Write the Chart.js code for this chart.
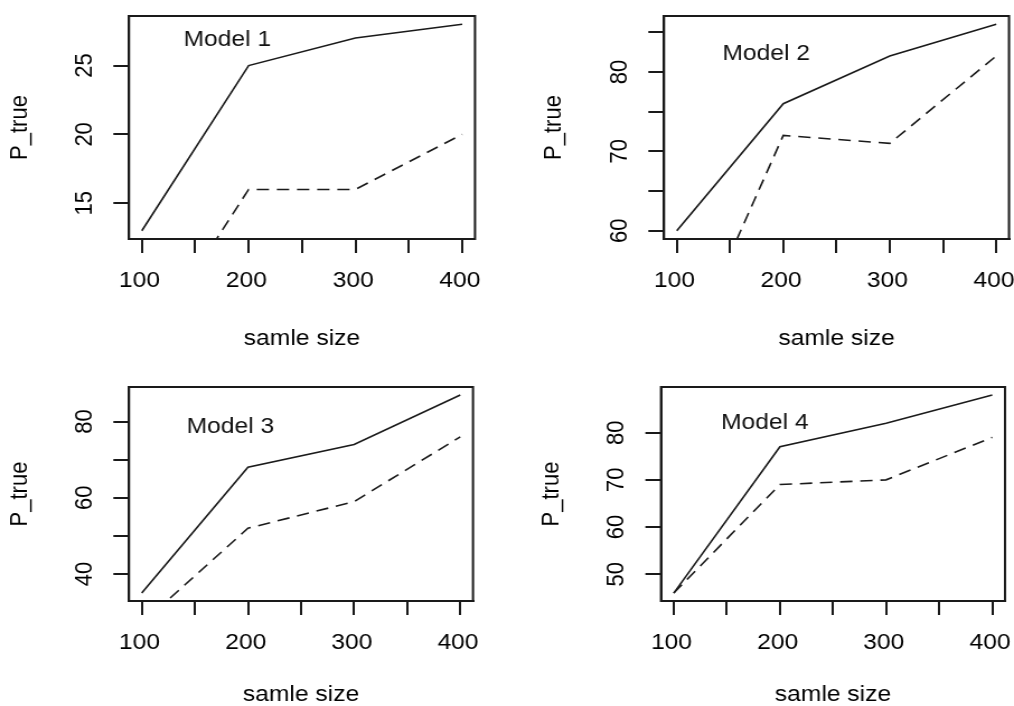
<!DOCTYPE html>
<html>
<head>
<meta charset="utf-8">
<script src="https://cdn.jsdelivr.net/npm/chart.js@4.4.1/dist/chart.umd.min.js"></script>
<style>
  html, body { margin: 0; padding: 0; background: #ffffff; }
  #wrap { position: relative; width: 1014px; height: 706px; overflow: hidden; background: #ffffff; }
  .panel { position: absolute; width: 453px; height: 353px; transform-origin: 0 0; transform: scaleX(1.119205); }
  canvas { display: block; }
</style>
</head>
<body>
<div id="wrap">
  <div class="panel" style="left:0px;top:0px"><canvas id="c1" width="453" height="353"></canvas></div>
  <div class="panel" style="left:507px;top:0px"><canvas id="c2" width="453" height="353"></canvas></div>
  <div class="panel" style="left:0px;top:353px"><canvas id="c3" width="453" height="353"></canvas></div>
  <div class="panel" style="left:507px;top:353px"><canvas id="c4" width="453" height="353"></canvas></div>
</div>
<script>
// ---------------- data ----------------
const sampleSize = [100, 200, 300, 400];

const model1Solid  = [13, 25, 27, 28];
const model1Dashed = [4, 16, 16, 20];

const model2Solid  = [60, 76, 82, 86];
const model2Dashed = [42, 72, 71, 82];

const model3Solid  = [35, 68, 74, 87];
const model3Dashed = [27, 52, 59, 76];

const model4Solid  = [46, 77, 82, 88];
const model4Dashed = [46, 69, 70, 79];

const xTicks      = [100, 150, 200, 250, 300, 350, 400];
const xTickLabels = [100, 200, 300, 400];

const model1YTicks  = [15, 20, 25];
const model1YLabels = [15, 20, 25];
const model2YTicks  = [60, 65, 70, 75, 80, 85];
const model2YLabels = [60, 70, 80];
const model3YTicks  = [40, 50, 60, 70, 80];
const model3YLabels = [40, 60, 80];
const model4YTicks  = [50, 60, 70, 80];
const model4YLabels = [50, 60, 70, 80];

const panelTitles = ['Model 1', 'Model 2', 'Model 3', 'Model 4'];
const xTitle = 'samle size';
const yTitle = 'P_true';

// ---------------- layout / style ----------------
const W = 453, H = 353;          // canvas drawing size (panel is stretched horizontally by CSS)
const SX = 507 / 453;            // horizontal stretch of the original picture
const FONT = '"Liberation Sans", Arial, Helvetica, sans-serif';
const FS = 22;
const INK = '#1a1a1a';

// box edges in displayed pixels (inside each 507x353 panel)
const layouts = [
  { left: 129, top: 16, right: 475, bottom: 239, yTitlePad: 5,  xTitlePad: 1,  labelX: 180,   labelY: 26.85 },
  { left: 157, top: 16, right: 502, bottom: 239, yTitlePad: 29, xTitlePad: 1,  labelX: 184,   labelY: 82.3 },
  { left: 129, top: 34, right: 473, bottom: 248, yTitlePad: 5,  xTitlePad: -2, labelX: 183.5, labelY: 78.7 },
  { left: 154, top: 34, right: 498, bottom: 248, yTitlePad: 27, xTitlePad: -2, labelX: 185.7, labelY: 82.0 }
];

const boxPlugin = {
  id: 'rbox',
  afterDraw(chart) {
    const a = chart.chartArea, ctx = chart.ctx;
    ctx.save();
    ctx.strokeStyle = INK;
    ctx.lineWidth = 2;
    ctx.strokeRect(a.left, a.top, a.right - a.left, a.bottom - a.top);
    ctx.restore();
  }
};

const labelPlugin = {
  id: 'rtext',
  afterDraw(chart, args, opts) {
    const ctx = chart.ctx;
    const px = chart.scales.x.getPixelForValue(opts.x);
    const py = chart.scales.y.getPixelForValue(opts.y);
    ctx.save();
    ctx.fillStyle = '#111';
    ctx.font = FS + 'px ' + FONT;
    ctx.textAlign = 'center';
    ctx.textBaseline = 'middle';
    ctx.fillText(opts.text, px, py);
    ctx.restore();
  }
};

function zeroPadding(s) {
  s.paddingTop = 0; s.paddingBottom = 0; s.paddingLeft = 0; s.paddingRight = 0;
}

function makeChart(id, solid, dashed, yTicks, yLabels, title, lay) {
  const yMin = Math.min(...solid), yMax = Math.max(...solid);
  const yExt = (yMax - yMin) * 0.04;
  const xMin = Math.min(...sampleSize), xMax = Math.max(...sampleSize);
  const xExt = (xMax - xMin) * 0.04;
  const left = lay.left / SX, right = lay.right / SX;

  return new Chart(document.getElementById(id), {
    type: 'line',
    data: {
      datasets: [
        {
          label: 'solid',
          data: sampleSize.map((x, i) => ({ x: x, y: solid[i] })),
          borderColor: INK, borderWidth: 1.6, pointRadius: 0, tension: 0, fill: false
        },
        {
          label: 'dashed',
          data: sampleSize.map((x, i) => ({ x: x, y: dashed[i] })),
          borderColor: INK, borderWidth: 1.6, borderDash: [11, 7], pointRadius: 0, tension: 0, fill: false
        }
      ]
    },
    options: {
      responsive: false,
      animation: false,
      devicePixelRatio: 1,
      layout: { padding: { left: 0, top: lay.top, right: W - right, bottom: 0 } },
      plugins: {
        legend: { display: false },
        tooltip: { enabled: false },
        rtext: { text: title, x: lay.labelX, y: lay.labelY }
      },
      scales: {
        x: {
          type: 'linear', position: 'bottom',
          min: xMin - xExt, max: xMax + xExt,
          afterBuildTicks: s => { s.ticks = xTicks.map(v => ({ value: v })); },
          afterFit: s => { s.height = H - lay.bottom; zeroPadding(s); },
          grid: { drawOnChartArea: false, drawTicks: true, tickLength: 14, lineWidth: 2, color: INK },
          border: { display: true, color: INK, width: 2 },
          ticks: {
            autoSkip: false, minRotation: 0, maxRotation: 0, padding: 15, labelOffset: -2,
            color: '#000', font: { family: FONT, size: FS },
            callback: v => xTickLabels.includes(v) ? String(v) : ''
          },
          title: {
            display: true, text: xTitle, color: '#000',
            font: { family: FONT, size: FS },
            padding: { top: 0, bottom: lay.xTitlePad }
          }
        },
        y: {
          type: 'linear', position: 'left',
          min: yMin - yExt, max: yMax + yExt,
          afterBuildTicks: s => { s.ticks = yTicks.map(v => ({ value: v })); },
          afterFit: s => { s.width = left; zeroPadding(s); },
          grid: { drawOnChartArea: false, drawTicks: true, tickLength: 14, lineWidth: 2, color: INK },
          border: { display: true, color: INK, width: 2 },
          ticks: {
            autoSkip: false, minRotation: 90, maxRotation: 90, crossAlign: 'center', padding: 13,
            color: '#000', font: { family: FONT, size: FS },
            callback: v => yLabels.includes(v) ? String(v) : ''
          },
          title: {
            display: true, text: yTitle, color: '#000',
            font: { family: FONT, size: FS },
            padding: { top: lay.yTitlePad, bottom: 0 }
          }
        }
      }
    },
    plugins: [boxPlugin, labelPlugin]
  });
}

makeChart('c1', model1Solid, model1Dashed, model1YTicks, model1YLabels, panelTitles[0], layouts[0]);
makeChart('c2', model2Solid, model2Dashed, model2YTicks, model2YLabels, panelTitles[1], layouts[1]);
makeChart('c3', model3Solid, model3Dashed, model3YTicks, model3YLabels, panelTitles[2], layouts[2]);
makeChart('c4', model4Solid, model4Dashed, model4YTicks, model4YLabels, panelTitles[3], layouts[3]);
</script>
</body>
</html>
